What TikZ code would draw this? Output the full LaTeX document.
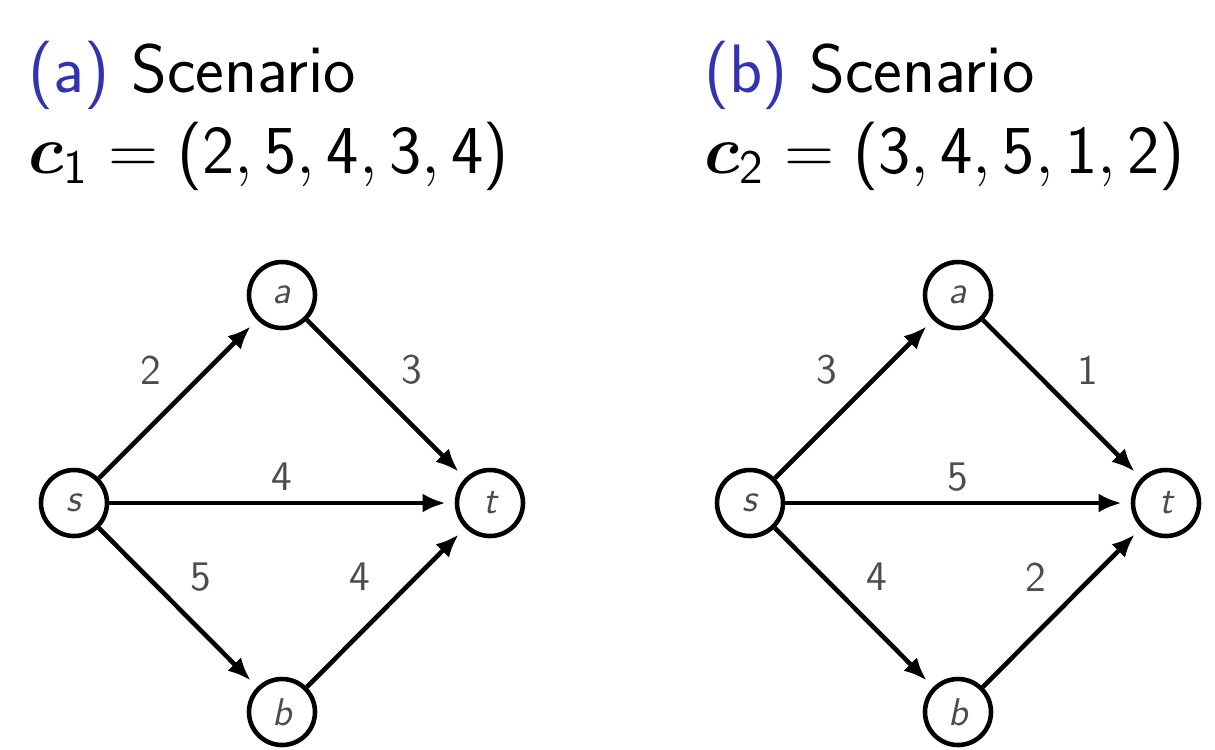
\RequirePackage{fix-cm}
\documentclass[tikz,border=0pt]{standalone}
\usepackage{amsmath,bm}
\usepackage{tikz}
\usetikzlibrary{
  positioning,
  arrows.meta
}
\usepackage{xcolor}
\DeclareSymbolFont{operators}{OT1}{cmss}{m}{n}
\definecolor{structure}{RGB}{51,51,178}
\definecolor{weight}{gray}{0.3}

\begin{document}
\begin{tikzpicture}[
  vertex/.style={draw, circle, line width=1.3pt, minimum size=6.6mm, inner sep=0pt,
                 text=weight, font=\fontsize{11}{13}\selectfont\sffamily\itshape},
  wlabel/.style={font=\fontsize{12}{14}\selectfont\sffamily, text=weight, inner sep=0pt},
  title/.style={anchor=base west, inner sep=0pt, font=\fontsize{19.5}{23}\selectfont\sffamily},
  arr/.style={-{Latex[length=2.3mm,width=1.9mm]}, line width=1.3pt, shorten >=2.6pt}
]
  \useasboundingbox (0,0) rectangle (12.15,-7.49);

  % Titles
  \node[title] (titlea) at (0.28,-0.92) {\textcolor{structure}{(a)} Scenario};
  \node[title] (costa) at (0.28,-1.73) {$\bm{c}_1 = (2, 5, 4, 3, 4)$};
  \node[title] (titleb) at (7.04,-0.92) {\textcolor{structure}{(b)} Scenario};
  \node[title] (costb) at (7.04,-1.73) {$\bm{c}_2 = (3, 4, 5, 1, 2)$};

  % Scenario 1
  \node[vertex] (s1) at (0.74,-5.03) {s};
  \node[vertex] (a1) at (2.82,-2.95) {a};
  \node[vertex] (t1) at (4.90,-5.03) {t};
  \node[vertex] (b1) at (2.82,-7.12) {b};

  \draw[arr] (s1) -- (a1);
  \draw[arr] (a1) -- (t1);
  \draw[arr] (s1) -- (t1);
  \draw[arr] (s1) -- (b1);
  \draw[arr] (b1) -- (t1);

  \node[wlabel] (w1sa) at (1.51,-3.70) {2};
  \node[wlabel] (w1at) at (4.12,-3.70) {3};
  \node[wlabel] (w1st) at (2.82,-4.77) {4};
  \node[wlabel] (w1sb) at (2.01,-5.77) {5};
  \node[wlabel] (w1bt) at (3.60,-5.77) {4};

  % Scenario 2
  \node[vertex] (s2) at (7.50,-5.03) {s};
  \node[vertex] (a2) at (9.58,-2.95) {a};
  \node[vertex] (t2) at (11.66,-5.03) {t};
  \node[vertex] (b2) at (9.58,-7.12) {b};

  \draw[arr] (s2) -- (a2);
  \draw[arr] (a2) -- (t2);
  \draw[arr] (s2) -- (t2);
  \draw[arr] (s2) -- (b2);
  \draw[arr] (b2) -- (t2);

  \node[wlabel] (w2sa) at (8.27,-3.70) {3};
  \node[wlabel] (w2at) at (10.88,-3.70) {1};
  \node[wlabel] (w2st) at (9.58,-4.77) {5};
  \node[wlabel] (w2sb) at (8.77,-5.77) {4};
  \node[wlabel] (w2bt) at (10.36,-5.77) {2};
\end{tikzpicture}
\end{document}
